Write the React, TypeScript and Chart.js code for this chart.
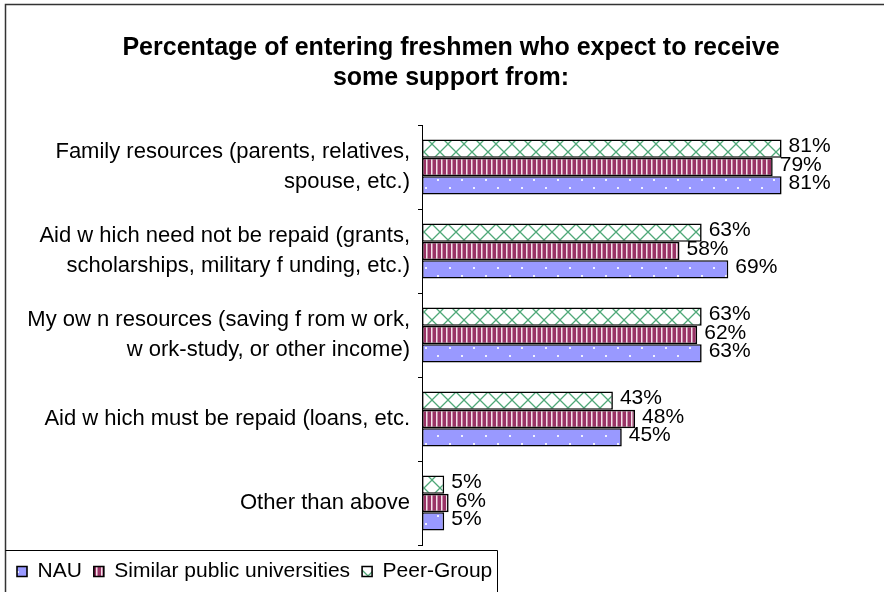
import React, { useEffect, useRef } from "react";
import { Chart, registerables } from "chart.js";

Chart.register(...registerables);

const categories: (string | string[])[] = [
  ["Family resources (parents, relatives,", "spouse, etc.)"],
  ["Aid w hich need not be repaid (grants,", "scholarships, military f unding, etc.)"],
  ["My ow n resources (saving f rom w ork,", "w ork-study, or other income)"],
  "Aid w hich must be repaid (loans, etc.",
  "Other than above",
];
const nauValues = [81, 69, 63, 45, 5];
const similarValues = [79, 58, 62, 48, 6];
const peerValues = [81, 63, 63, 43, 5];
const seriesNames = ["NAU", "Similar public universities", "Peer-Group"];
const titleLines = [
  "Percentage of entering freshmen who expect to receive",
  "some support from:",
];

const FONT = '"Liberation Sans", Arial, Helvetica, sans-serif';
const CANVAS_W = 897;
const CANVAS_H = 592;

function makePattern(
  ctx: CanvasRenderingContext2D,
  w: number,
  h: number,
  draw: (g: CanvasRenderingContext2D) => void
): CanvasPattern {
  const c = document.createElement("canvas");
  c.width = w;
  c.height = h;
  const g = c.getContext("2d") as CanvasRenderingContext2D;
  draw(g);
  return ctx.createPattern(c, "repeat") as CanvasPattern;
}

const valueLabels = {
  id: "valueLabels",
  afterDatasetsDraw(chart: any) {
    const ctx = chart.ctx;
    ctx.save();
    ctx.font = `21px ${FONT}`;
    ctx.fillStyle = "#000";
    ctx.textAlign = "left";
    ctx.textBaseline = "middle";
    chart.data.datasets.forEach((ds: any, i: number) => {
      const meta = chart.getDatasetMeta(i);
      meta.data.forEach((bar: any, j: number) => {
        ctx.fillText(`${ds.data[j]}%`, bar.x + 7, bar.y - 2);
      });
    });
    ctx.restore();
  },
};

const frames = {
  id: "frames",
  beforeDraw(chart: any) {
    const ctx = chart.ctx;
    ctx.save();
    ctx.fillStyle = "#fff";
    ctx.fillRect(0, 0, chart.width, chart.height);
    ctx.strokeStyle = "#333";
    ctx.lineWidth = 1.5;
    ctx.beginPath();
    ctx.moveTo(5.5, chart.height + 5);
    ctx.lineTo(5.5, 4.5);
    ctx.lineTo(chart.width + 5, 4.5);
    ctx.stroke();
    ctx.restore();
  },
  afterDraw(chart: any) {
    const lg = chart.legend;
    if (!lg || !lg.legendHitBoxes || !lg.legendHitBoxes.length) return;
    const boxes = lg.legendHitBoxes;
    const last = boxes[boxes.length - 1];
    const right = last.left + last.width + 5;
    const top = lg.top + 5;
    const ctx = chart.ctx;
    ctx.save();
    ctx.strokeStyle = "#000";
    ctx.lineWidth = 1;
    ctx.beginPath();
    ctx.moveTo(5.5, top + 0.5);
    ctx.lineTo(Math.round(right) + 0.5, top + 0.5);
    ctx.lineTo(Math.round(right) + 0.5, chart.height + 5);
    ctx.stroke();
    ctx.restore();
  },
};

export default function App() {
  const canvasRef = useRef<HTMLCanvasElement | null>(null);

  useEffect(() => {
    const canvas = canvasRef.current;
    if (!canvas) return;
    const ctx = canvas.getContext("2d") as CanvasRenderingContext2D;

    const nauPattern = makePattern(ctx, 24, 16, (g) => {
      g.fillStyle = "#9999FF";
      g.fillRect(0, 0, 24, 16);
      g.fillStyle = "rgba(255,255,255,0.85)";
      g.fillRect(5, 3, 2, 2);
      g.fillRect(17, 11, 2, 2);
    });
    const similarPattern = makePattern(ctx, 5, 4, (g) => {
      g.fillStyle = "#993366";
      g.fillRect(0, 0, 5, 4);
      g.fillStyle = "#f4e2ea";
      g.fillRect(1, 0, 1, 4);
      g.fillStyle = "#c88aa8";
      g.fillRect(2, 0, 1, 4);
    });
    const peerPattern = makePattern(ctx, 16, 16, (g) => {
      g.fillStyle = "#ffffff";
      g.fillRect(0, 0, 16, 16);
      g.strokeStyle = "#4fa878";
      g.lineWidth = 1.3;
      g.beginPath();
      for (const k of [-16, 0, 16]) {
        g.moveTo(k - 2, -2);
        g.lineTo(k + 18, 18);
        g.moveTo(k + 18, -2);
        g.lineTo(k - 2, 18);
      }
      g.stroke();
    });

    const chart = new Chart(canvas, {
      type: "bar",
      data: {
        labels: categories,
        datasets: [
          {
            label: seriesNames[2],
            data: peerValues,
            backgroundColor: peerPattern,
            borderColor: "#000",
            borderWidth: 1.6,
            borderSkipped: false,
          },
          {
            label: seriesNames[1],
            data: similarValues,
            backgroundColor: similarPattern,
            borderColor: "#000",
            borderWidth: 1.6,
            borderSkipped: false,
          },
          {
            label: seriesNames[0],
            data: nauValues,
            backgroundColor: nauPattern,
            borderColor: "#000",
            borderWidth: 1.6,
            borderSkipped: false,
          },
        ],
      },
      options: {
        indexAxis: "y",
        animation: false,
        responsive: false,
        maintainAspectRatio: false,
        events: [],
        datasets: {
          bar: { categoryPercentage: 0.655, barPercentage: 1 },
        },
        layout: { padding: { top: 0, left: 5, right: 0, bottom: 0 } },
        scales: {
          x: { display: false, min: 0, max: 107 },
          y: {
            position: "left",
            border: { display: true, color: "#000", width: 1 },
            grid: {
              display: true,
              drawOnChartArea: false,
              drawTicks: true,
              tickLength: 4,
              color: "#000",
              offset: true,
            },
            ticks: {
              color: "#000",
              padding: 8,
              autoSkip: false,
              font: { family: FONT, size: 22, lineHeight: 30.5 / 22 },
            },
            afterFit(scale: any) {
              scale.width = 417;
            },
          },
        },
        plugins: {
          title: {
            display: true,
            text: titleLines,
            color: "#000",
            font: { family: FONT, size: 25, weight: "bold", lineHeight: 30 / 25 },
            padding: { top: 33, bottom: 32 },
          },
          legend: {
            display: true,
            position: "bottom",
            align: "start",
            reverse: true,
            title: {
              display: true,
              text: " ",
              font: { size: 1, lineHeight: 1 },
              padding: 1.5,
            },
            labels: {
              color: "#000",
              boxWidth: 10,
              boxHeight: 10,
              padding: 12,
              font: { family: FONT, size: 21 },
            },
          },
          tooltip: { enabled: false },
        },
      },
      plugins: [frames, valueLabels],
    } as any);

    return () => {
      chart.destroy();
    };
  }, []);

  return (
    <div
      style={{
        position: "absolute",
        left: 0,
        top: 0,
        width: 884,
        height: CANVAS_H,
        overflow: "hidden",
        background: "#fff",
      }}
    >
      <canvas
        ref={canvasRef}
        width={CANVAS_W}
        height={CANVAS_H}
        style={{ display: "block", width: CANVAS_W, height: CANVAS_H }}
      />
    </div>
  );
}
